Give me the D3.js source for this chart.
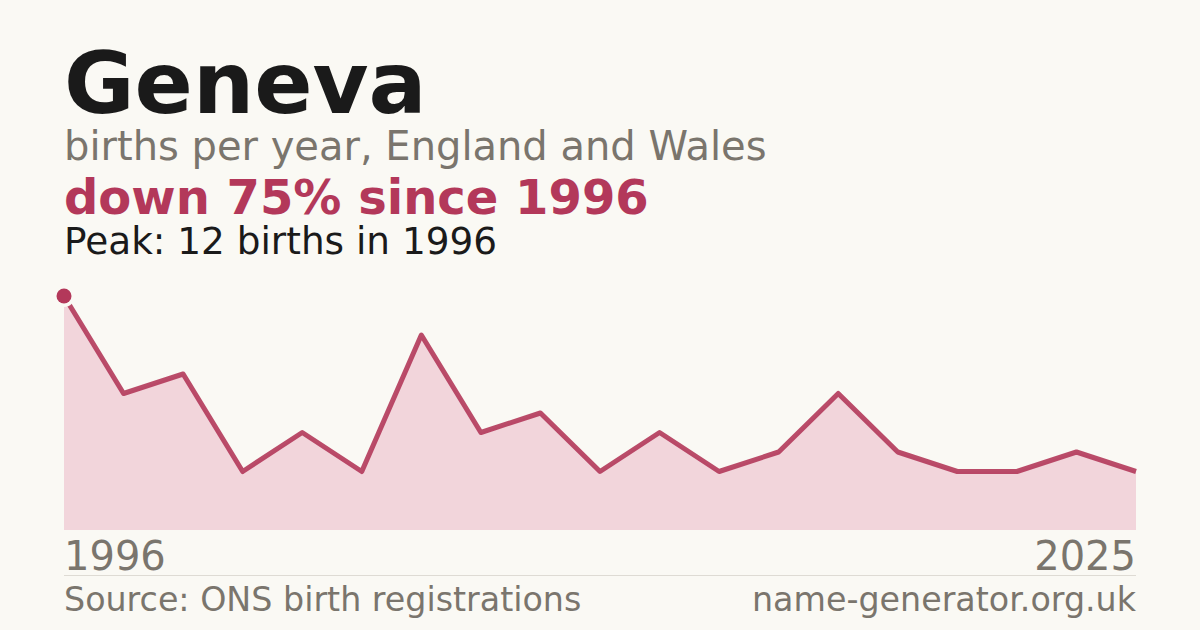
<!DOCTYPE html>
<html>
<head>
<meta charset="utf-8">
<script src="https://cdn.jsdelivr.net/npm/d3@7"></script>
<style>
  html, body { margin: 0; padding: 0; background: #faf9f4; }
  svg { display: block; font-family: "DejaVu Sans", sans-serif; }
</style>
</head>
<body>
<svg id="chart" width="1200" height="630"></svg>
<script>
// data
const years = ["1996", "1997", "1998", "1999", "2000", "2001", "2002", "2003", "2004", "2005",
    "2006", "2007", "2008", "2009", "2010", "2011", "2012", "2013", "2025"]
const births = [12, 7, 8, 3, 5, 3, 10, 5, 6, 3, 5, 3, 4, 7, 4, 3, 3, 4, 3]
const axisLabels = ["1996", "2025"]

const title = "Geneva"
const subtitle = "births per year, England and Wales"
const headline = "down 75% since 1996"
const peakNote = "Peak: 12 births in 1996"
const source = "Source: ONS birth registrations"
const site = "name-generator.org.uk"

// colours
const red = "#b3385a"
const grey = "#7a756d"
const ink = "#1a1a1a"
const bg = "#faf9f4"

const svg = d3.select("#chart")
svg.append("rect").attr("width", 1200).attr("height", 630).attr("fill", bg)

const plotLeft = 64, plotRight = 1136, plotTop = 296, plotBottom = 530

const x = d3.scalePoint().domain(years).range([plotLeft, plotRight])
const y = d3.scaleLinear().domain([0, d3.max(births)]).range([plotBottom, plotTop])

const pts = years.map((yr, i) => ({ yr, v: births[i] }))

// area + line
const area = d3.area().x(d => x(d.yr)).y0(y(0)).y1(d => y(d.v))
const line = d3.line().x(d => x(d.yr)).y(d => y(d.v))

svg.append("path").datum(pts)
    .attr("d", area)
    .attr("fill", "#f2d5db")

svg.append("path").datum(pts)
    .attr("d", line)
    .attr("fill", "none")
    .attr("stroke", red)
    .attr("stroke-opacity", 0.9)
    .attr("stroke-width", 5)
    .attr("stroke-linejoin", "round")

// peak marker
const iPeak = births.indexOf(d3.max(births))
const peak = pts[iPeak]
svg.append("circle")
    .attr("cx", x(peak.yr)).attr("cy", y(peak.v))
    .attr("r", 11).attr("fill", bg)
svg.append("circle")
    .attr("cx", x(peak.yr)).attr("cy", y(peak.v))
    .attr("r", 7.5).attr("fill", red)

// header text
svg.append("text").attr("x", plotLeft).attr("y", 113)
    .attr("font-size", 86).attr("font-weight", "bold").attr("fill", ink)
    .text(title)
svg.append("text").attr("x", plotLeft).attr("y", 160)
    .attr("font-size", 40).attr("fill", grey)
    .text(subtitle)
svg.append("text").attr("x", plotLeft).attr("y", 214)
    .attr("font-size", 48).attr("font-weight", "bold").attr("fill", red)
    .text(headline)
svg.append("text").attr("x", plotLeft).attr("y", 254)
    .attr("font-size", 37.4).attr("fill", ink)
    .text(peakNote)

// x end labels
svg.append("text").attr("x", x(axisLabels[0])).attr("y", 570)
    .attr("font-size", 40).attr("fill", grey)
    .text(axisLabels[0])
svg.append("text").attr("x", x(axisLabels[1])).attr("y", 570)
    .attr("font-size", 40).attr("fill", grey).attr("text-anchor", "end")
    .text(axisLabels[1])

// footer
svg.append("line")
    .attr("x1", plotLeft).attr("x2", plotRight).attr("y1", 575.5).attr("y2", 575.5)
    .attr("stroke", "#dedbd4").attr("stroke-width", 1)
svg.append("text").attr("x", plotLeft).attr("y", 611)
    .attr("font-size", 33.3).attr("fill", grey)
    .text(source)
svg.append("text").attr("x", plotRight).attr("y", 611)
    .attr("font-size", 33.3).attr("fill", grey).attr("text-anchor", "end")
    .text(site)
</script>
</body>
</html>
